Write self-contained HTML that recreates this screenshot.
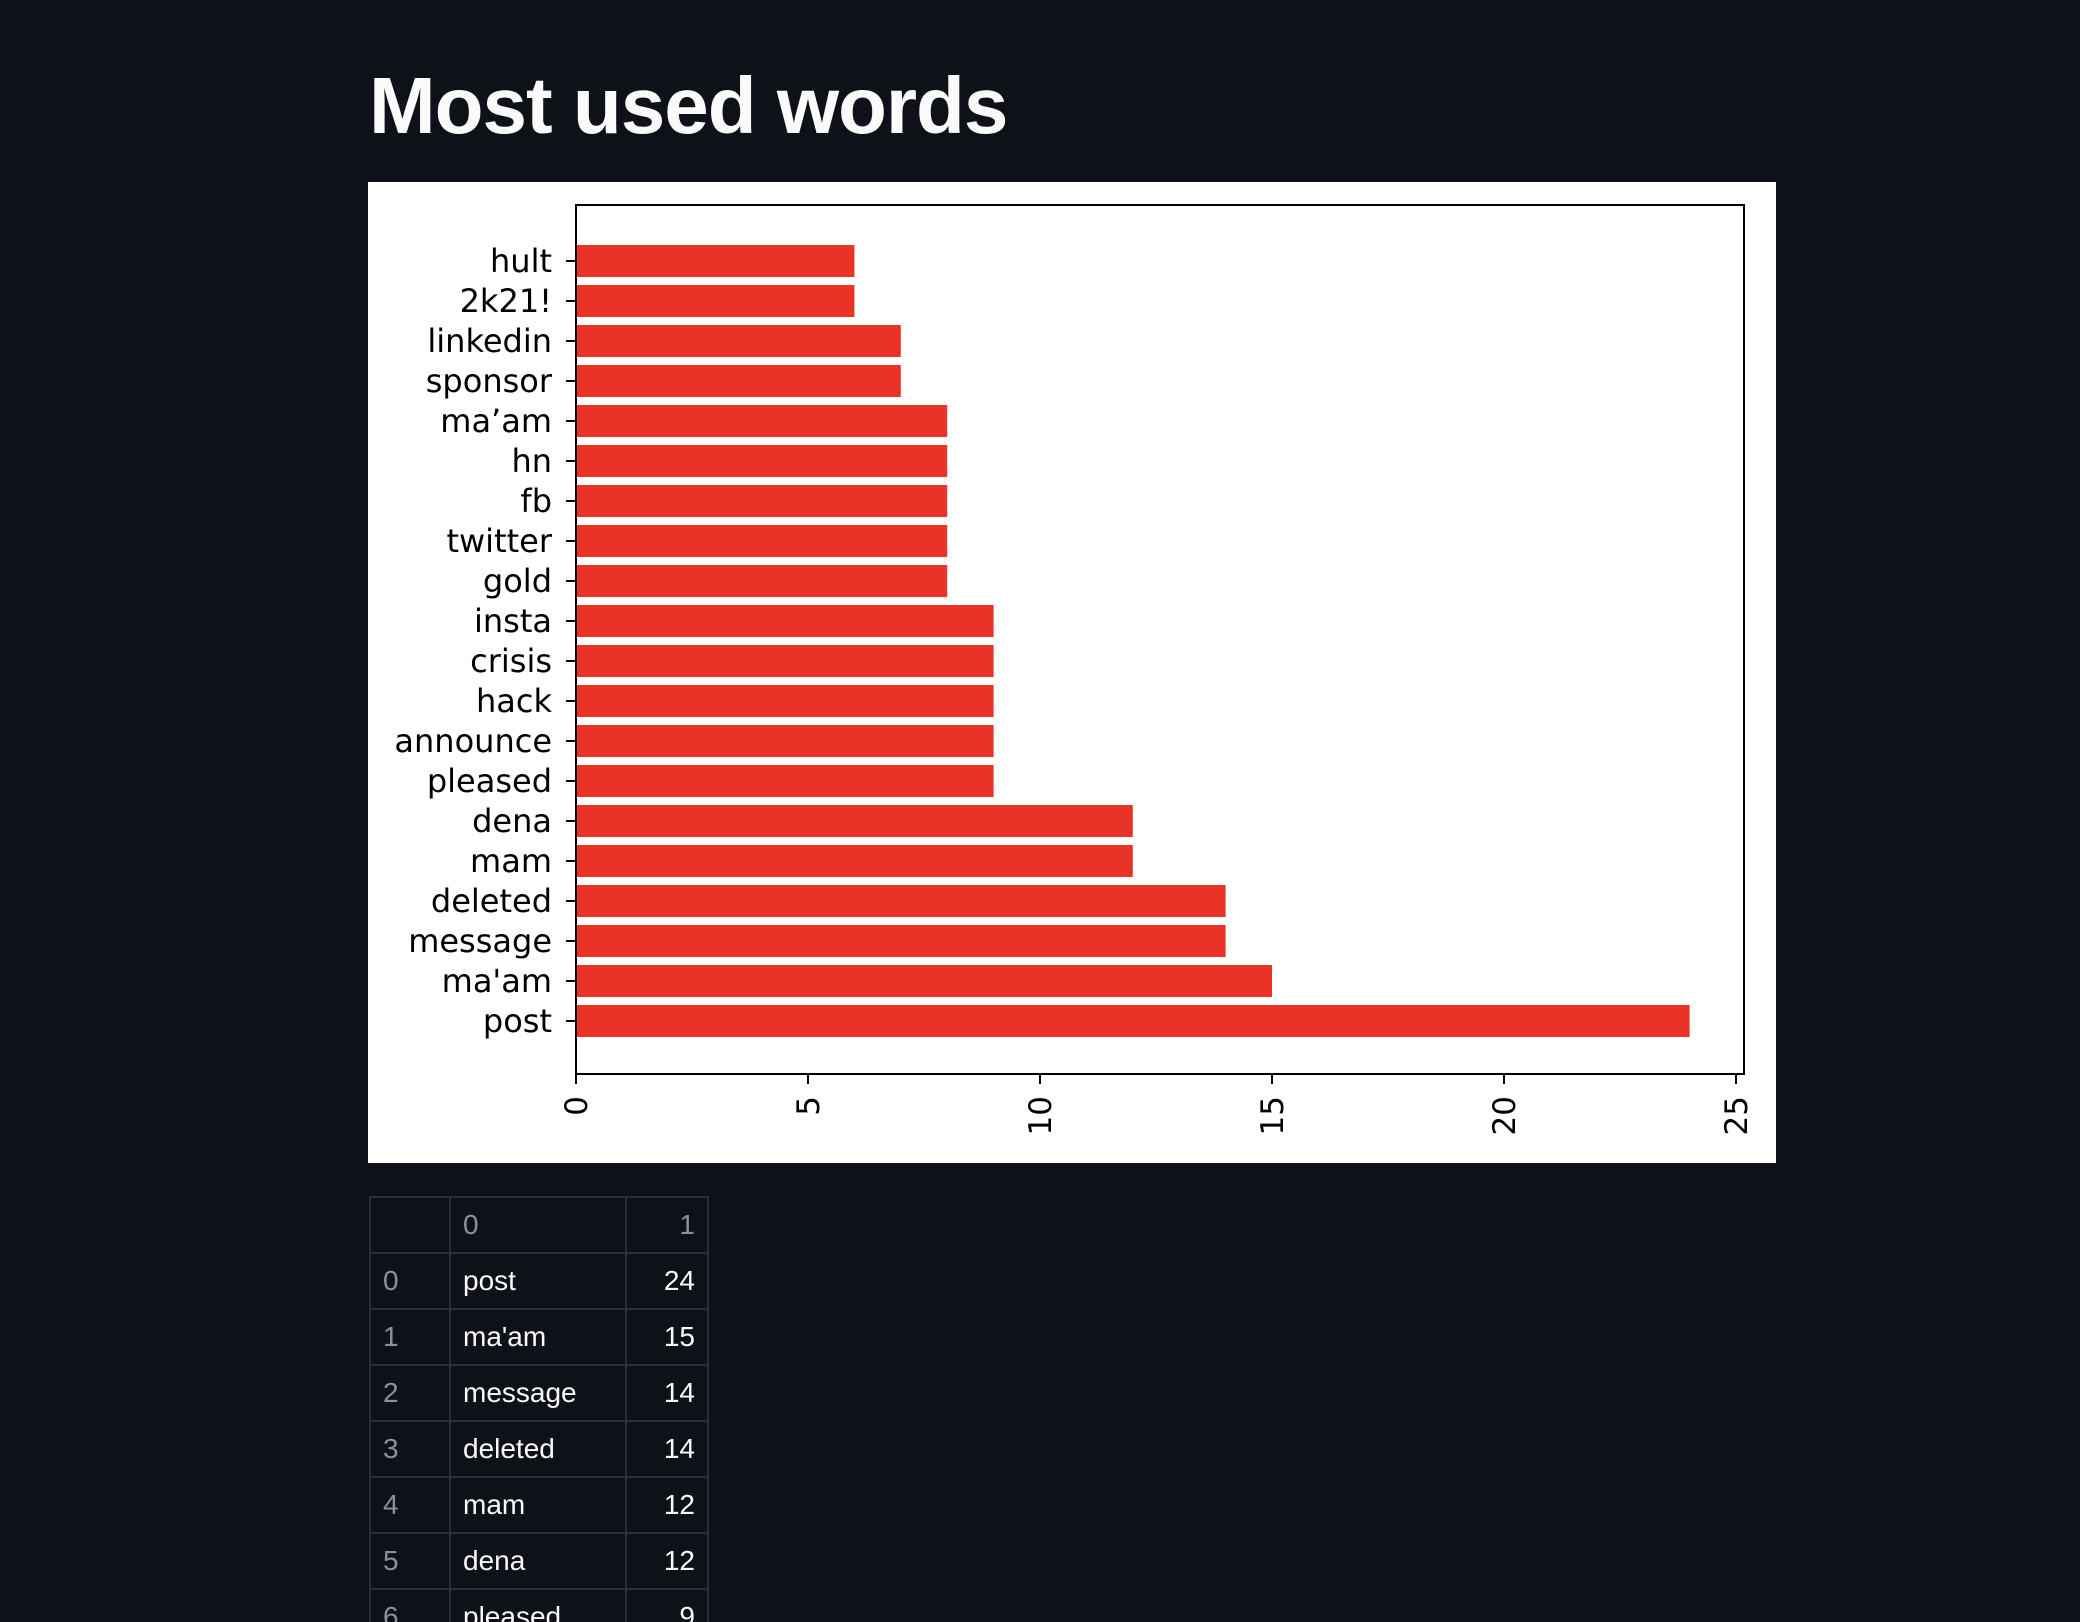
<!DOCTYPE html>
<html><head><meta charset="utf-8"><style>
html,body{margin:0;padding:0;width:2080px;height:1622px;overflow:hidden;background:#0e1117}
#wrap{position:relative;width:2080px;height:1622px;overflow:hidden;background:#0e1117;font-family:"Liberation Sans",sans-serif}
#title{position:absolute;left:369px;top:66px;font-size:80px;font-weight:bold;color:#fafafa;letter-spacing:-1px;margin:0;line-height:1}
#chart{position:absolute;left:368px;top:182px}
table{position:absolute;left:369px;top:1196px;border-collapse:collapse;font-size:28px;color:#fafafa;table-layout:fixed}
td{border:2px solid #2b2e36;height:54px;padding:0 12px}
td.i{color:#8e9099;width:54px}
td.w{width:150px}
td.n{text-align:right;width:56px}
tr.h td{color:#8e9099}
</style></head><body>
<div id="wrap">
<h1 id="title">Most used words</h1>
<svg id="chart" width="1408" height="981" xmlns="http://www.w3.org/2000/svg"></svg>
<table><tbody id="tb"></tbody></table>
</div>
<script>
const words=["post","ma'am","message","deleted","mam","dena","pleased","announce","hack","crisis","insta","gold","twitter","fb","hn","ma’am","sponsor","linkedin","2k21!","hult"];
const counts=[24,15,14,14,12,12,9,9,9,9,9,8,8,8,8,8,7,7,6,6];
const xTicks=[0,5,10,15,20,25];
const NS="http://www.w3.org/2000/svg";
const svg=document.getElementById('chart');
const ox=368,oy=182;
const axL=576-ox,axR=1744-ox,axT=205-oy,axB=1074-oy;
const xs=v=>axL+v*46.4;
const ys=i=>(1021-oy)-i*40;
function mk(t,a){const e=document.createElementNS(NS,t);for(const k in a)e.setAttribute(k,a[k]);svg.appendChild(e);return e;}
const bg=mk('rect',{x:0,y:0,width:1408,height:981,fill:'#fff'});


counts.forEach((c,i)=>{
 const r=mk('rect',{x:xs(0),y:ys(i)-16,width:xs(c)-xs(0),height:32,fill:'#ea3326'});
 
 
 mk('line',{x1:axL-10,x2:axL,y1:ys(i),y2:ys(i),stroke:'#000','stroke-width':2});
 const t=mk('text',{x:axL-24,y:ys(i)+11,'text-anchor':'end','font-size':32,'font-family':'DejaVu Sans, sans-serif',fill:'#000'});
 t.textContent=words[i];
 
 
});
xTicks.forEach(v=>{
 mk('line',{x1:xs(v),x2:xs(v),y1:axB,y2:axB+10,stroke:'#000','stroke-width':2});
 const t=mk('text',{x:0,y:0,'text-anchor':'end','font-size':31,'font-family':'DejaVu Sans, sans-serif',fill:'#000',transform:`translate(${xs(v)+11},${axB+22}) rotate(-90)`});
 t.textContent=v;
 
 
});
const fr=mk('rect',{x:axL,y:axT,width:axR-axL,height:axB-axT,fill:'none',stroke:'#000','stroke-width':2});


const tb=document.getElementById('tb');
let h='<tr class="h"><td class="i"></td><td class="w">0</td><td class="n">1</td></tr>';
words.slice(0,7).forEach((w,i)=>{h+=`<tr><td class="i">${i}</td><td class="w">${w}</td><td class="n">${counts[i]}</td></tr>`;});
tb.innerHTML=h;
</script>
</body></html>
